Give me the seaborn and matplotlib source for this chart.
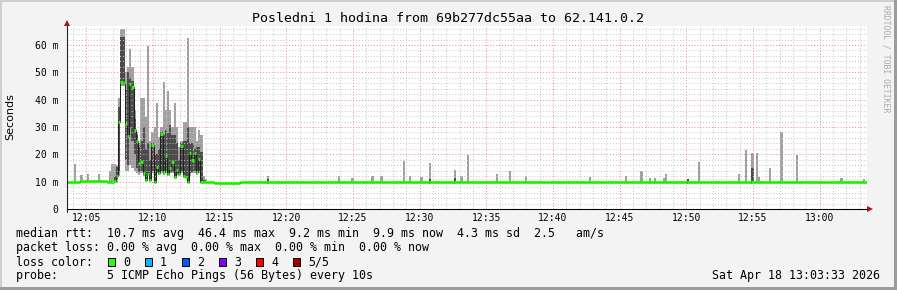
import numpy as np
import pandas as pd
import matplotlib
matplotlib.use("Agg")
import matplotlib.pyplot as plt
import seaborn as sns
from matplotlib.patches import Rectangle

# ---------------- data ----------------
START_MIN = 3.55          # 12:03:33 expressed in minutes after 12:00
STEP_MIN = 1.0 / 6.0      # 10 s probe step
N_BINS = 360

# median rtt (ms), one value per minute of the quiet baseline
base_med = [9.9, 10.2, 10.1, 9.9, 9.9, 9.9, 9.8, 9.8, 9.8, 9.9,
            9.7, 9.6, 9.6, 9.8, 9.8, 9.9, 9.8, 9.9, 9.8, 9.9,
            9.8, 9.9, 9.8, 9.8, 10.0, 9.9, 9.8, 9.9, 9.8, 9.9,
            10.0, 9.9, 9.8, 9.9, 9.8, 9.9, 9.8, 9.9, 10.0, 9.8,
            9.9, 9.9, 10.0, 9.8, 9.9, 9.8, 9.9, 9.8, 9.9, 9.9,
            10.0, 9.8, 9.9, 9.8, 9.7, 9.8, 9.9, 9.9, 9.9, 9.8]

# burst 12:06:53 .. 12:14:03, 10 s resolution
burst_start = 6.883
burst_med = [10.0, 10.2, 12.0, 31.7, 46.4, 46.0, 31.0, 26.7, 45.7, 44.8,
             28.9, 25.0, 16.7, 17.3, 13.0, 10.6, 12.8, 10.6, 23.4, 9.8,
             15.5, 13.3, 27.3, 13.7, 19.4, 12.8, 15.1, 17.3, 11.6, 14.3,
             12.8, 23.0, 12.1, 11.8, 10.0, 20.4, 17.9, 20.4, 13.7, 18.2,
             10.0, 9.8, 9.7]
burst_lo = [9.7, 9.8, 10.0, 12.0, 45.0, 45.0, 14.0, 14.0, 16.0, 15.0,
            14.0, 13.0, 12.5, 13.0, 12.0, 10.3, 12.0, 10.3, 13.0, 9.5,
            13.0, 12.5, 13.0, 12.5, 13.0, 12.0, 13.0, 13.0, 11.3, 12.5,
            12.0, 13.0, 11.8, 11.5, 9.7, 12.0, 13.0, 13.0, 12.5, 13.0,
            9.8, 9.6, 9.5]
burst_q1 = [9.9, 10.0, 11.0, 14.0, 46.0, 45.5, 18.0, 16.0, 30.0, 25.0,
            20.0, 15.0, 13.5, 14.0, 12.5, 10.4, 12.3, 10.4, 14.0, 9.7,
            13.5, 12.8, 14.0, 13.0, 14.0, 12.4, 13.5, 13.5, 11.4, 13.0,
            12.3, 14.0, 11.9, 11.6, 9.8, 13.0, 13.5, 14.0, 13.0, 14.0,
            9.9, 9.7, 9.6]
burst_q3 = [10.4, 12.0, 15.5, 37.4, 63.0, 63.0, 44.0, 50.0, 48.0, 47.0,
            33.0, 27.0, 22.8, 25.0, 30.0, 22.0, 24.0, 18.0, 24.0, 20.0,
            20.0, 22.0, 28.0, 27.0, 29.0, 27.8, 30.7, 27.0, 27.0, 24.0,
            18.0, 24.0, 25.0, 25.0, 30.0, 24.0, 24.0, 22.0, 22.8, 22.8,
            20.7, 10.5, 10.2]
burst_hi = [16.5, 16.5, 16.1, 40.5, 66.0, 65.8, 50.0, 52.0, 58.4, 52.0,
            36.2, 28.0, 24.0, 40.5, 40.5, 33.8, 59.8, 25.0, 28.0, 30.0,
            38.9, 26.5, 30.0, 46.6, 36.2, 43.3, 36.2, 30.0, 38.9, 30.0,
            22.8, 25.0, 32.0, 32.0, 62.5, 30.0, 30.0, 30.0, 25.0, 29.0,
            27.0, 12.0, 10.8]

# isolated smoke spikes on the baseline (minutes after 12:00, max rtt ms)
spike_time = [4.18, 4.63, 5.05, 6.00, 6.73, 18.69, 24.00, 24.94, 26.51, 27.19,
              28.88, 29.36, 30.06, 30.86, 32.56, 33.19, 33.56, 35.76, 36.73, 37.91,
              42.86, 45.44, 46.57, 47.26, 47.56, 48.31, 48.44, 50.89, 53.89, 54.44,
              55.02, 55.26, 55.51, 56.24, 57.06, 58.26, 61.56, 63.26]
spike_hi = [16.5, 12.4, 12.8, 12.8, 14.0, 12.1, 12.1, 11.3, 11.9, 12.1,
            17.6, 12.0, 11.8, 16.7, 14.3, 12.0, 19.8, 12.8, 14.0, 12.1,
            11.6, 12.1, 14.0, 11.2, 11.5, 11.2, 12.8, 17.3, 12.8, 21.6,
            20.4, 20.4, 11.8, 14.9, 28.3, 19.8, 11.2, 10.9]
# darker inner smoke on the baseline
dark_time = [18.69, 30.86, 32.56, 50.12, 55.02]
dark_hi = [11.0, 11.0, 11.2, 10.9, 14.9]

xtick_vals = [5, 10, 15, 20, 25, 30, 35, 40, 45, 50, 55, 60]
xtick_labels = ["12:05", "12:10", "12:15", "12:20", "12:25", "12:30",
                "12:35", "12:40", "12:45", "12:50", "12:55", "13:00"]
ytick_vals = [0, 10, 20, 30, 40, 50, 60]
ytick_labels = ["0", "10 m", "20 m", "30 m", "40 m", "50 m", "60 m"]

loss_labels = ["0", "1", "2", "3", "4", "5/5"]
loss_colors = ["#22ff00", "#00b8ff", "#0059ff", "#7e00ff", "#ff0000", "#a00000"]

title = "Posledni 1 hodina from 69b277dc55aa to 62.141.0.2"
legend_rows = [
    "median rtt:  10.7 ms avg  46.4 ms max  9.2 ms min  9.9 ms now  4.3 ms sd  2.5   am/s",
    "packet loss: 0.00 % avg  0.00 % max  0.00 % min  0.00 % now",
    "loss color:",
    "probe:       5 ICMP Echo Pings (56 Bytes) every 10s",
]
stamp = "Sat Apr 18 13:03:33 2026"

# ---------------- build series ----------------
left = START_MIN + np.arange(N_BINS) * STEP_MIN
med = np.repeat(np.array(base_med), 6)[:N_BINS].astype(float)
b0 = int(round((burst_start - START_MIN) / STEP_MIN))
nb = len(burst_med)
med[b0:b0 + nb] = burst_med


def bin_of(t):
    return int((t - START_MIN) / STEP_MIN)


# ---------------- figure ----------------
W, H, DPI = 897, 290, 100
sns.set_theme(style="white")
plt.rcParams["font.family"] = ["DejaVu Sans Mono", "DejaVu Sans"]
fig = plt.figure(figsize=(W / DPI, H / DPI), dpi=DPI, facecolor="#f3f3f3")


def fx(px):
    return px / W


def fy(py):
    return 1 - py / H


ax = fig.add_axes([fx(67), fy(209), 800 / W, 183 / H])
ax.set_facecolor("white")
ax.set_xlim(START_MIN, START_MIN + N_BINS * STEP_MIN)
ax.set_ylim(0, 66.96)

LIGHT = "#a0a0a0"
DARK = "#4c4c4c"

# burst smoke
bl = left[b0:b0 + nb]
ax.bar(bl, np.array(burst_hi) - np.array(burst_lo), bottom=burst_lo, width=STEP_MIN,
       align="edge", color=LIGHT, linewidth=0, zorder=1)
ax.bar(bl, np.array(burst_q3) - np.array(burst_q1), bottom=burst_q1, width=STEP_MIN,
       align="edge", color=DARK, linewidth=0, zorder=1.1)

# baseline spikes
sb = [bin_of(t) for t in spike_time]
ax.bar(left[sb], np.array(spike_hi) - med[sb], bottom=med[sb], width=STEP_MIN,
       align="edge", color=LIGHT, linewidth=0, zorder=1)
db = [bin_of(t) for t in dark_time]
ax.bar(left[db], np.array(dark_hi) - med[db] + 0.6, bottom=med[db] - 0.6, width=STEP_MIN,
       align="edge", color=DARK, linewidth=0, zorder=1.1)

# grid
ax.set_xticks(xtick_vals)
ax.set_xticklabels(xtick_labels)
ax.set_xticks(np.arange(4, 64, 1), minor=True)
ax.set_yticks(ytick_vals)
ax.set_yticklabels(ytick_labels)
ax.set_yticks(np.arange(0, 67, 2), minor=True)
ax.set_axisbelow(False)
ax.grid(which="minor", color="#c4c4c4", linestyle=(0, (1, 2)), linewidth=0.7)
ax.grid(which="major", color="#f08a8a", linestyle=(0, (1, 2)), linewidth=0.7)
ax.tick_params(which="both", length=0)
ax.tick_params(axis="y", pad=6, labelsize=7, colors="black")
ax.tick_params(axis="x", pad=3, labelsize=7, colors="black")

# median line: dark step line + green per-step segments
step_x = np.append(left, left[-1] + STEP_MIN)
step_y = np.append(med, med[-1])
df = pd.DataFrame({"t": step_x, "ms": step_y})
sns.lineplot(data=df, x="t", y="ms", drawstyle="steps-post", color="#202020",
             linewidth=0.75, estimator=None, ax=ax, zorder=3)
ax.hlines(med, left, left + STEP_MIN, colors=loss_colors[0], linewidth=2.2, zorder=4)
ax.set_xlabel("")
ax.set_ylabel("")

for s in ["top", "right"]:
    ax.spines[s].set_visible(False)
ax.spines["left"].set_color("#222222")
ax.spines["bottom"].set_color("black")
ax.spines["left"].set_linewidth(0.75)
ax.spines["bottom"].set_linewidth(0.75)
ax.spines["left"].set_zorder(5)
ax.spines["bottom"].set_zorder(5)

# axis arrows (figure pixel coordinates)
fig.add_artist(plt.Line2D([fx(67), fx(868)], [fy(209), fy(209)], color="black", lw=0.75))
fig.add_artist(plt.Line2D([fx(67), fx(67)], [fy(212), fy(24)], color="#222222", lw=0.75))
fig.add_artist(plt.Line2D([fx(870)], [fy(209)], marker=">", markersize=5,
                          color="#a01818", markeredgewidth=0))
fig.add_artist(plt.Line2D([fx(67)], [fy(23)], marker="^", markersize=5,
                          color="#a01818", markeredgewidth=0))

# texts
fig.text(fx(447.5), fy(19), title, ha="center", va="center", fontsize=9.5, color="black")
fig.text(fx(10), fy(117), "Seconds", rotation=90, ha="center", va="center",
         fontsize=8, family=["DejaVu Sans"], color="black")
fig.text(fx(886), fy(59), "RRDTOOL / TOBI OETIKER", rotation=270, ha="center",
         va="center", fontsize=5.9, color="#aaaaaa")
row_y = [234, 248, 262, 276]
for txt, yy in zip(legend_rows, row_y):
    fig.text(fx(16), fy(yy), txt, ha="left", va="center", fontsize=8.4, color="black")
fig.text(fx(880), fy(276), stamp, ha="right", va="center", fontsize=8.4, color="black")

for k, (lab, col) in enumerate(zip(loss_labels, loss_colors)):
    x0 = 108 + 37 * k
    fig.add_artist(Rectangle((fx(x0), fy(266)), 7 / W, 8 / H, facecolor=col,
                             edgecolor="black", linewidth=0.7))
    fig.text(fx(x0 + 15), fy(262), lab, ha="left", va="center", fontsize=8.4, color="black")

# image frame
fig.add_artist(Rectangle((0, 1 - 2 / H), 1, 2 / H, facecolor="#cfcfcf", edgecolor="none"))
fig.add_artist(Rectangle((0, 0), 2 / W, 1, facecolor="#cfcfcf", edgecolor="none"))
fig.add_artist(Rectangle((0, 0), 1, 3 / H, facecolor="#9c9c9c", edgecolor="none"))
fig.add_artist(Rectangle((1 - 3 / W, 0), 3 / W, 1, facecolor="#9c9c9c", edgecolor="none"))

fig.savefig("out.png", dpi=DPI, facecolor=fig.get_facecolor())
